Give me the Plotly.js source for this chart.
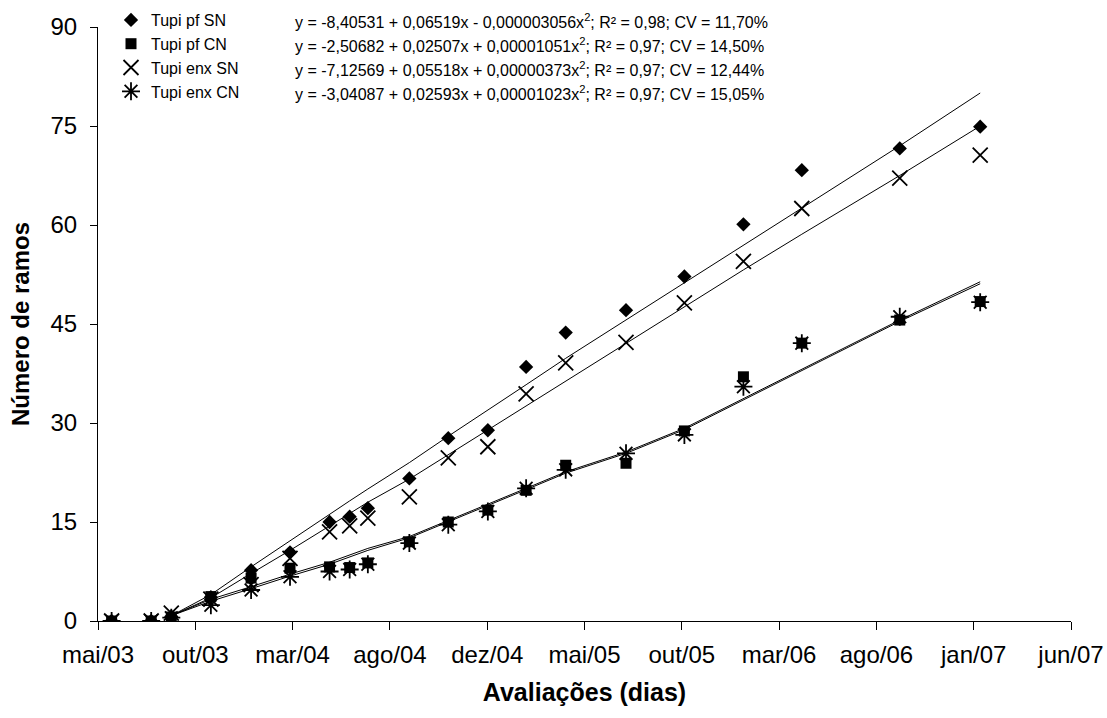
<!DOCTYPE html>
<html>
<head>
<meta charset="utf-8">
<script src="https://cdn.plot.ly/plotly-3.0.1.min.js"></script>
<style>
  html, body { margin: 0; padding: 0; background: #ffffff; }
  #chart { width: 1107px; height: 718px; }
</style>
</head>
<body>
<div id="chart"></div>
<script>
// ---- Data ----
const evalDates = ['2003-05-29','2003-07-29','2003-08-29','2003-10-29','2003-12-30','2004-02-28',
  '2004-04-29','2004-05-30','2004-06-27','2004-08-30','2004-10-29','2004-12-29','2005-02-26',
  '2005-04-28','2005-07-30','2005-10-28','2006-01-27','2006-04-27','2006-09-25','2007-01-27'];

const seriesNames = ['Tupi pf SN', 'Tupi pf CN', 'Tupi enx SN', 'Tupi enx CN'];

const tupiPfSN  = [0, 0, 0.7, 3.6, 7.7, 10.4, 15.0, 15.8, 17.1, 21.6, 27.7, 28.9, 38.5, 43.7, 47.1, 52.2, 60.1, 68.3, 71.6, 74.9];
const tupiPfCN  = [0, 0, 0.6, 3.7, 6.5, 8.0, 8.2, 8.1, 8.8, 12.0, 15.0, 16.8, 19.8, 23.6, 23.9, 28.8, 37.0, 42.1, 45.6, 48.4];
const tupiEnxSN = [0, 0, 1.2, 3.3, 5.5, 9.5, 13.5, 14.4, 15.6, 18.8, 24.7, 26.4, 34.4, 39.1, 42.2, 48.2, 54.5, 62.5, 67.1, 70.6];
const tupiEnxCN = [0, 0, 0.5, 2.4, 4.7, 6.7, 7.5, 7.8, 8.6, 11.8, 14.6, 16.6, 20.1, 22.9, 25.4, 28.2, 35.5, 42.1, 46.1, 48.3];

// trend lines (from the 3rd evaluation onwards)
const fitDates = evalDates.slice(2);
const fitPfSN  = [0.8, 4.0, 8.2, 12.2, 16.2, 18.2, 20.0, 24.0, 28.0, 31.9, 35.8, 39.8, 45.6, 51.2, 57.0, 62.6, 72.0, 80.0];
const fitEnxSN = [0.8, 3.5, 7.2, 10.7, 14.4, 16.3, 18.0, 21.5, 25.2, 28.9, 32.5, 36.3, 42.1, 47.6, 53.2, 58.6, 67.5, 75.0];
const fitPfCN  = [0.8, 3.3, 5.2, 7.1, 8.9, 10.0, 11.0, 12.8, 15.2, 17.7, 20.1, 22.6, 25.6, 29.2, 33.7, 38.1, 45.6, 51.4];
const fitEnxCN = [0.8, 3.0, 4.9, 6.8, 8.6, 9.7, 10.7, 12.6, 15.0, 17.5, 19.9, 22.4, 25.4, 29.0, 33.5, 37.9, 45.4, 51.1];

const equations = [
  'y = -8,40531 + 0,06519x - 0,000003056x<sup>2</sup>; R² = 0,98; CV = 11,70%',
  'y = -2,50682 + 0,02507x + 0,00001051x<sup>2</sup>; R² = 0,97; CV = 14,50%',
  'y = -7,12569 + 0,05518x + 0,00000373x<sup>2</sup>; R² = 0,97; CV = 12,44%',
  'y = -3,04087 + 0,02593x + 0,00001023x<sup>2</sup>; R² = 0,97; CV = 15,05%'
];

const xTickLabels = ['mai/03','out/03','mar/04','ago/04','dez/04','mai/05','out/05','mar/06','ago/06','jan/07','jun/07'];
const yTickValues = [0, 15, 30, 45, 60, 75, 90];

// ---- Axis set-up: major unit of 150 days starting at the first tick ----
const DAY = 86400000;
const axisStart = Date.UTC(2003, 4, 8);
const iso = ms => new Date(ms).toISOString().slice(0, 10);
const xTickVals = xTickLabels.map((_, i) => iso(axisStart + i * 150 * DAY));
const xRange = [iso(axisStart), iso(axisStart + 1500 * DAY)];

const FONT = 'Liberation Sans, Arial, sans-serif';

function fitTrace(y) {
  return { x: fitDates, y: y, type: 'scatter', mode: 'lines',
           line: { color: '#000000', width: 1 }, showlegend: false, hoverinfo: 'skip' };
}
function markTrace(name, y, marker) {
  return { x: evalDates, y: y, name: name, type: 'scatter', mode: 'markers', marker: marker };
}

const traces = [
  fitTrace(fitPfSN), fitTrace(fitEnxSN), fitTrace(fitPfCN), fitTrace(fitEnxCN),
  markTrace(seriesNames[0], tupiPfSN,  { symbol: 'diamond', size: 11, color: '#000000' }),
  markTrace(seriesNames[1], tupiPfCN,  { symbol: 'square', size: 11, color: '#000000' }),
  markTrace(seriesNames[2], tupiEnxSN, { symbol: 'x-thin-open', size: 15, color: '#000000', line: { color: '#000000', width: 1.8 } }),
  markTrace(seriesNames[3], tupiEnxCN, { symbol: 'asterisk-open', size: 15, color: '#000000', line: { color: '#000000', width: 1.8 } })
];

const W = 1107, H = 718;
const plotL = 98, plotR = 1071, plotT = 27, plotB = 621;
const pw = plotR - plotL;
// paper area spans from the top of the page down to the x-axis line
const paperH = plotB;
const rowY = [21, 45, 69, 93];

const annotations = equations.map((t, i) => ({
  text: t, xref: 'paper', yref: 'paper',
  x: (293 - plotL) / pw, y: (paperH - rowY[i]) / paperH,
  xanchor: 'left', yanchor: 'middle', showarrow: false,
  font: { family: FONT, size: 16, color: '#000000' }
}));

const layout = {
  width: W, height: H,
  margin: { l: plotL, r: W - plotR, t: 0, b: H - plotB, autoexpand: false },
  paper_bgcolor: '#ffffff', plot_bgcolor: '#ffffff',
  font: { family: FONT, color: '#000000' },
  showlegend: true,
  legend: {
    x: (111 - plotL) / pw, y: (paperH - 3) / paperH, xanchor: 'left', yanchor: 'top',
    bgcolor: 'rgba(0,0,0,0)', font: { family: FONT, size: 16, color: '#000000' },
    itemwidth: 30, tracegroupgap: 0
  },
  xaxis: {
    type: 'date', range: xRange, tickmode: 'array', tickvals: xTickVals, ticktext: xTickLabels,
    showline: true, linecolor: '#000000', linewidth: 1, showgrid: false, zeroline: false,
    ticks: 'outside', ticklen: 8, tickcolor: '#000000', tickwidth: 1, ticklabelstandoff: 4,
    tickfont: { family: FONT, size: 24, color: '#000000' },
    title: { text: '<b>Avaliações (dias)</b>', font: { family: FONT, size: 25, color: '#000000' }, standoff: 16 }
  },
  yaxis: {
    domain: [0, (plotB - plotT) / paperH],
    range: [0, 90], tickmode: 'array', tickvals: yTickValues,
    showline: true, linecolor: '#000000', linewidth: 1, showgrid: false, zeroline: false,
    ticks: 'outside', ticklen: 7, tickcolor: '#000000', tickwidth: 1, ticklabelstandoff: 8,
    tickfont: { family: FONT, size: 24, color: '#000000' },
    title: { text: '<b>Número de ramos</b>', font: { family: FONT, size: 24, color: '#000000' }, standoff: 14 }
  },
  annotations: annotations
};

Plotly.newPlot('chart', traces, layout, { displayModeBar: false, staticPlot: true });
</script>
</body>
</html>
